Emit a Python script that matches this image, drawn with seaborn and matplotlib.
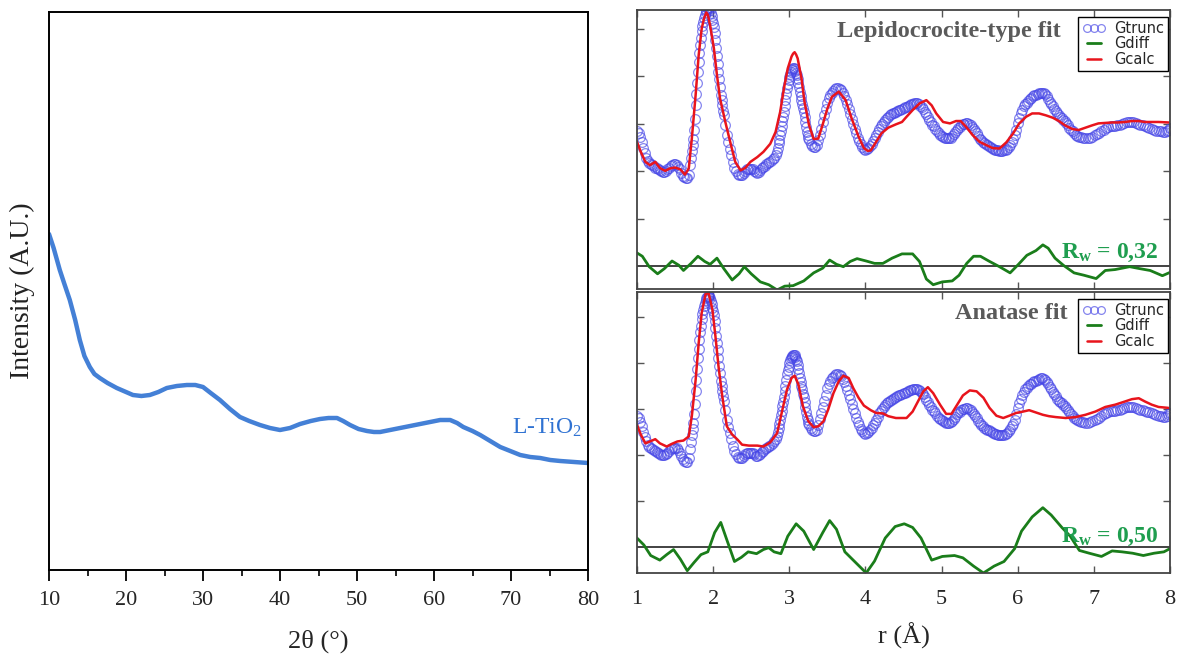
import numpy as np
import pandas as pd
import matplotlib
matplotlib.use("Agg")
import matplotlib.pyplot as plt
from matplotlib.ticker import MultipleLocator
import seaborn as sns

# ---------------- XRD data (left panel) ----------------
xrd_2theta = [10.0, 10.6, 11.4, 12.0, 12.7, 13.4, 14.0, 14.6, 15.3, 15.9, 16.6, 17.6, 18.8, 20.0,
              20.9, 22.0, 23.1, 24.2, 25.3, 26.6, 27.9, 29.0, 30.0, 31.0, 32.2, 33.5, 34.8,
              36.0, 37.4, 38.7, 40.0, 41.3, 42.6, 44.0, 45.2, 46.3, 47.4, 48.2, 49.1, 50.2,
              51.3, 52.2, 53.0, 54.3, 55.6, 56.9, 58.2, 59.5, 60.8, 62.1, 63.0, 63.8, 65.0,
              66.0, 67.3, 68.6, 69.9, 71.2, 72.5, 73.8, 75.1, 76.4, 78.2, 80.0]
xrd_intensity = [336, 322, 300, 286, 270, 250, 230, 214, 203, 196, 192, 187, 182, 178,
                 175, 174, 175, 178, 182, 184, 185, 185, 183, 177, 170, 161, 153,
                 149, 145, 142, 140, 142, 146, 149, 151, 152, 152, 149, 145, 141,
                 139, 138, 138, 140, 142, 144, 146, 148, 150, 150, 147, 143, 139,
                 135, 129, 123, 119, 115, 113, 112, 110, 109, 108, 107]

# ---------------- PDF data (right panels) ----------------
r_trunc = [1.00, 1.02, 1.04, 1.06, 1.08, 1.10, 1.12, 1.14, 1.16, 1.18, 1.20, 1.22, 1.24, 1.26,
           1.28, 1.30, 1.32, 1.34, 1.36, 1.38, 1.40, 1.42, 1.44, 1.46, 1.48, 1.50, 1.52, 1.54,
           1.56, 1.58, 1.60, 1.62, 1.64, 1.66, 1.68, 1.70, 1.71, 1.72, 1.73, 1.74, 1.75, 1.76,
           1.77, 1.78, 1.79, 1.80, 1.81, 1.82, 1.83, 1.84, 1.85, 1.86, 1.87, 1.88, 1.89, 1.90,
           1.91, 1.92, 1.93, 1.94, 1.95, 1.96, 1.97, 1.98, 1.99, 2.00, 2.01, 2.02, 2.03, 2.04,
           2.05, 2.06, 2.07, 2.08, 2.09, 2.10, 2.11, 2.12, 2.13, 2.14, 2.16, 2.18, 2.20, 2.22,
           2.24, 2.26, 2.28, 2.30, 2.32, 2.34, 2.36, 2.38, 2.40, 2.42, 2.44, 2.46, 2.48, 2.50,
           2.52, 2.54, 2.56, 2.58, 2.60, 2.62, 2.64, 2.66, 2.68, 2.70, 2.72, 2.74, 2.76, 2.78,
           2.80, 2.82, 2.84, 2.85, 2.86, 2.87, 2.88, 2.89, 2.90, 2.91, 2.92, 2.93, 2.94, 2.95,
           2.96, 2.97, 2.98, 2.99, 3.00, 3.01, 3.02, 3.03, 3.04, 3.05, 3.06, 3.07, 3.08, 3.09,
           3.10, 3.11, 3.12, 3.13, 3.14, 3.15, 3.16, 3.17, 3.18, 3.19, 3.20, 3.21, 3.22, 3.23,
           3.24, 3.25, 3.26, 3.28, 3.30, 3.32, 3.34, 3.36, 3.38, 3.40, 3.42, 3.44, 3.46, 3.48,
           3.50, 3.52, 3.54, 3.56, 3.58, 3.60, 3.62, 3.64, 3.66, 3.68, 3.70, 3.72, 3.74, 3.76,
           3.78, 3.80, 3.82, 3.84, 3.86, 3.88, 3.90, 3.92, 3.94, 3.96, 3.98, 4.00, 4.02, 4.04,
           4.06, 4.08, 4.10, 4.12, 4.14, 4.16, 4.18, 4.20, 4.22, 4.24, 4.26, 4.28, 4.30, 4.32,
           4.34, 4.36, 4.38, 4.40, 4.42, 4.44, 4.46, 4.48, 4.50, 4.52, 4.54, 4.56, 4.58, 4.60,
           4.62, 4.64, 4.66, 4.68, 4.70, 4.72, 4.74, 4.76, 4.78, 4.80, 4.82, 4.84, 4.86, 4.88,
           4.90, 4.92, 4.94, 4.96, 4.98, 5.00, 5.02, 5.04, 5.06, 5.08, 5.10, 5.12, 5.14, 5.16,
           5.18, 5.20, 5.22, 5.24, 5.26, 5.28, 5.30, 5.32, 5.34, 5.36, 5.38, 5.40, 5.42, 5.44,
           5.46, 5.48, 5.50, 5.52, 5.54, 5.56, 5.58, 5.60, 5.62, 5.64, 5.66, 5.68, 5.70, 5.72,
           5.74, 5.76, 5.78, 5.80, 5.82, 5.84, 5.86, 5.88, 5.90, 5.92, 5.94, 5.96, 5.98, 6.00,
           6.02, 6.04, 6.06, 6.08, 6.10, 6.12, 6.14, 6.16, 6.18, 6.20, 6.22, 6.24, 6.26, 6.28,
           6.30, 6.32, 6.34, 6.36, 6.38, 6.40, 6.42, 6.44, 6.46, 6.48, 6.50, 6.52, 6.54, 6.56,
           6.58, 6.60, 6.62, 6.64, 6.66, 6.68, 6.70, 6.72, 6.74, 6.76, 6.78, 6.80, 6.83, 6.86,
           6.89, 6.92, 6.95, 6.98, 7.01, 7.04, 7.07, 7.10, 7.13, 7.16, 7.19, 7.22, 7.25, 7.28,
           7.31, 7.34, 7.37, 7.40, 7.43, 7.46, 7.49, 7.52, 7.55, 7.58, 7.61, 7.64, 7.67, 7.70,
           7.73, 7.76, 7.79, 7.82, 7.85, 7.88, 7.91, 7.94, 7.96, 7.98, 8.00]
g_trunc = [2.85, 2.80, 2.72, 2.62, 2.50, 2.39, 2.29, 2.21, 2.17, 2.15, 2.13, 2.11, 2.08, 2.06,
           2.04, 2.02, 2.00, 1.99, 1.99, 2.01, 2.04, 2.08, 2.12, 2.14, 2.15, 2.15, 2.14, 2.10,
           2.04, 1.97, 1.91, 1.87, 1.85, 1.85, 1.93, 2.13, 2.28, 2.42, 2.56, 2.69, 2.88, 3.10,
           3.39, 3.63, 3.87, 4.10, 4.30, 4.50, 4.66, 4.80, 4.95, 5.06, 5.15, 5.23, 5.30, 5.36,
           5.41, 5.44, 5.45, 5.45, 5.43, 5.40, 5.34, 5.27, 5.19, 5.13, 5.05, 4.92, 4.76, 4.59,
           4.43, 4.27, 4.10, 3.94, 3.77, 3.61, 3.50, 3.39, 3.28, 3.18, 2.97, 2.76, 2.61, 2.47,
           2.35, 2.19, 2.08, 2.01, 1.95, 1.93, 1.92, 1.93, 1.97, 2.01, 2.04, 2.05, 2.05, 2.05,
           2.04, 2.01, 1.98, 1.97, 1.99, 2.02, 2.06, 2.09, 2.12, 2.15, 2.17, 2.19, 2.22, 2.25,
           2.29, 2.35, 2.41, 2.50, 2.59, 2.67, 2.76, 2.86, 2.96, 3.06, 3.15, 3.25, 3.38, 3.50,
           3.63, 3.75, 3.84, 3.92, 3.99, 4.06, 4.10, 4.13, 4.15, 4.17, 4.17, 4.16, 4.12, 4.08,
           4.03, 3.95, 3.86, 3.77, 3.68, 3.59, 3.50, 3.42, 3.33, 3.25, 3.15, 3.04, 2.94, 2.83,
           2.76, 2.70, 2.65, 2.58, 2.54, 2.52, 2.51, 2.55, 2.65, 2.77, 2.90, 3.03, 3.18, 3.31,
           3.45, 3.54, 3.61, 3.66, 3.70, 3.73, 3.75, 3.75, 3.74, 3.71, 3.65, 3.58, 3.50, 3.41,
           3.31, 3.21, 3.11, 3.00, 2.90, 2.80, 2.71, 2.64, 2.57, 2.52, 2.48, 2.46, 2.47, 2.50,
           2.54, 2.58, 2.64, 2.70, 2.76, 2.83, 2.90, 2.96, 3.00, 3.05, 3.09, 3.12, 3.15, 3.18,
           3.20, 3.22, 3.23, 3.25, 3.27, 3.29, 3.30, 3.32, 3.34, 3.35, 3.36, 3.38, 3.40, 3.41,
           3.42, 3.43, 3.43, 3.43, 3.41, 3.38, 3.35, 3.32, 3.26, 3.20, 3.15, 3.09, 3.03, 2.98,
           2.95, 2.90, 2.85, 2.80, 2.77, 2.75, 2.73, 2.71, 2.70, 2.70, 2.70, 2.71, 2.74, 2.78,
           2.83, 2.88, 2.92, 2.94, 2.97, 2.99, 3.00, 3.01, 3.01, 3.00, 2.98, 2.94, 2.89, 2.85,
           2.80, 2.74, 2.69, 2.65, 2.62, 2.59, 2.57, 2.55, 2.53, 2.51, 2.49, 2.47, 2.46, 2.45,
           2.44, 2.43, 2.43, 2.43, 2.44, 2.45, 2.48, 2.51, 2.56, 2.62, 2.68, 2.76, 2.88, 3.01,
           3.12, 3.22, 3.30, 3.37, 3.42, 3.45, 3.49, 3.53, 3.55, 3.58, 3.60, 3.61, 3.63, 3.65,
           3.66, 3.66, 3.65, 3.63, 3.59, 3.53, 3.47, 3.42, 3.37, 3.32, 3.27, 3.22, 3.18, 3.15,
           3.12, 3.09, 3.06, 3.02, 2.97, 2.92, 2.88, 2.84, 2.80, 2.77, 2.75, 2.73, 2.72, 2.71,
           2.70, 2.70, 2.71, 2.73, 2.76, 2.78, 2.81, 2.85, 2.88, 2.91, 2.93, 2.95, 2.96, 2.96,
           2.97, 2.98, 3.00, 3.02, 3.04, 3.05, 3.04, 3.03, 3.01, 2.99, 2.98, 2.97, 2.96, 2.94,
           2.92, 2.90, 2.88, 2.86, 2.85, 2.84, 2.83, 2.82, 2.84, 2.88, 2.91]

r_calc_lep = [1.00, 1.05, 1.11, 1.17, 1.24, 1.30, 1.37, 1.43, 1.50, 1.57, 1.63, 1.68, 1.72, 1.77,
              1.81, 1.85, 1.88, 1.91, 1.93, 1.96, 2.01, 2.05, 2.09, 2.16, 2.23, 2.29, 2.36, 2.42,
              2.49, 2.58, 2.66, 2.75, 2.82, 2.88, 2.93, 2.98, 3.03, 3.05, 3.07, 3.09, 3.11, 3.16,
              3.20, 3.26, 3.32, 3.38, 3.43, 3.50, 3.56, 3.65, 3.74, 3.82, 3.91, 3.98, 4.03, 4.07,
              4.14, 4.21, 4.30, 4.40, 4.48, 4.54, 4.62, 4.71, 4.80, 4.87, 4.93, 5.02, 5.11, 5.19,
              5.25, 5.32, 5.41, 5.50, 5.59, 5.67, 5.76, 5.85, 5.94, 6.02, 6.11, 6.19, 6.28, 6.37,
              6.46, 6.54, 6.63, 6.72, 6.80, 6.89, 6.98, 7.06, 7.15, 7.24, 7.32, 7.41, 7.50, 7.59,
              7.67, 7.76, 7.85, 7.98]
g_calc_lep = [2.62, 2.41, 2.20, 2.13, 2.20, 2.07, 2.01, 2.06, 2.08, 2.04, 1.93, 2.06, 2.69, 3.61,
              4.45, 5.01, 5.22, 5.35, 5.30, 5.08, 4.59, 4.03, 3.54, 3.04, 2.58, 2.20, 2.02, 2.07,
              2.20, 2.30, 2.41, 2.58, 2.83, 3.25, 3.75, 4.17, 4.42, 4.48, 4.51, 4.46, 4.38, 3.96,
              3.46, 2.97, 2.68, 2.69, 2.94, 3.32, 3.57, 3.68, 3.50, 3.11, 2.73, 2.49, 2.43, 2.44,
              2.62, 2.80, 2.92, 2.99, 3.04, 3.15, 3.29, 3.43, 3.50, 3.39, 3.22, 3.04, 3.01, 3.06,
              3.06, 2.94, 2.76, 2.62, 2.55, 2.49, 2.48, 2.61, 2.80, 3.01, 3.15, 3.22, 3.22, 3.18,
              3.13, 3.06, 2.96, 2.89, 2.87, 2.92, 2.97, 3.01, 3.02, 3.03, 3.03, 3.04, 3.06, 3.06,
              3.04, 3.04, 3.04, 3.03]

r_diff_lep = [1.00, 1.07, 1.16, 1.27, 1.36, 1.46, 1.55, 1.61, 1.71, 1.80, 1.89, 1.96, 2.05, 2.14,
              2.25, 2.34, 2.41, 2.50, 2.62, 2.73, 2.84, 2.94, 3.05, 3.19, 3.32, 3.44, 3.53, 3.62,
              3.71, 3.80, 3.89, 4.01, 4.12, 4.23, 4.35, 4.48, 4.62, 4.71, 4.80, 4.89, 5.01, 5.14,
              5.23, 5.33, 5.42, 5.51, 5.62, 5.76, 5.90, 6.01, 6.12, 6.24, 6.33, 6.40, 6.49, 6.60,
              6.74, 6.87, 7.03, 7.15, 7.28, 7.47, 7.60, 7.74, 7.90, 8.00]
g_diff_lep = [0.28, 0.21, -0.01, -0.16, -0.05, 0.11, 0.02, -0.09, 0.06, 0.21, 0.10, 0.04, 0.17,
              -0.05, -0.29, -0.16, -0.01, -0.16, -0.33, -0.39, -0.50, -0.42, -0.41, -0.31, -0.14,
              -0.04, 0.13, 0.04, -0.01, 0.10, 0.16, 0.11, 0.06, 0.06, 0.17, 0.26, 0.26, 0.10,
              -0.27, -0.39, -0.33, -0.31, -0.19, 0.06, 0.21, 0.21, 0.11, -0.01, -0.14, 0.04, 0.23,
              0.33, 0.45, 0.38, 0.17, 0.02, -0.14, -0.19, -0.26, -0.09, -0.07, -0.01, -0.05,
              -0.09, -0.20, -0.13]

r_calc_ana = [1.00, 1.05, 1.11, 1.17, 1.24, 1.30, 1.39, 1.46, 1.53, 1.61, 1.68, 1.72, 1.77, 1.81,
              1.85, 1.90, 1.94, 1.99, 2.03, 2.07, 2.12, 2.18, 2.25, 2.32, 2.38, 2.47, 2.58, 2.66,
              2.75, 2.84, 2.90, 2.97, 3.03, 3.07, 3.12, 3.18, 3.25, 3.32, 3.38, 3.45, 3.51, 3.58,
              3.65, 3.71, 3.78, 3.84, 3.91, 3.98, 4.07, 4.14, 4.23, 4.30, 4.40, 4.48, 4.54, 4.62,
              4.69, 4.76, 4.82, 4.89, 4.98, 5.06, 5.13, 5.19, 5.28, 5.37, 5.46, 5.55, 5.63, 5.72,
              5.81, 5.89, 5.98, 6.07, 6.15, 6.24, 6.33, 6.41, 6.50, 6.63, 6.76, 6.89, 7.02, 7.15,
              7.28, 7.41, 7.50, 7.59, 7.67, 7.76, 7.85, 7.98]
g_calc_ana = [2.65, 2.44, 2.25, 2.29, 2.34, 2.25, 2.18, 2.24, 2.29, 2.31, 2.40, 2.84, 3.63, 4.43,
              5.09, 5.49, 5.52, 5.16, 4.58, 3.93, 3.27, 2.62, 2.44, 2.33, 2.22, 2.20, 2.20, 2.18,
              2.27, 2.47, 2.91, 3.42, 3.67, 3.72, 3.53, 3.05, 2.73, 2.60, 2.62, 2.73, 2.98, 3.34,
              3.60, 3.72, 3.67, 3.45, 3.24, 3.07, 2.97, 2.91, 2.90, 2.84, 2.80, 2.80, 2.80, 2.94,
              3.16, 3.38, 3.47, 3.34, 3.09, 2.89, 2.89, 3.05, 3.29, 3.40, 3.38, 3.24, 3.02, 2.85,
              2.80, 2.85, 2.91, 2.94, 2.97, 2.92, 2.87, 2.84, 2.82, 2.80, 2.82, 2.87, 2.94, 3.04,
              3.09, 3.16, 3.21, 3.23, 3.16, 3.09, 3.04, 3.02]

r_diff_ana = [1.00, 1.09, 1.18, 1.30, 1.39, 1.48, 1.57, 1.66, 1.75, 1.84, 1.93, 2.02, 2.10, 2.18,
              2.28, 2.37, 2.46, 2.57, 2.66, 2.73, 2.80, 2.89, 2.98, 3.09, 3.19, 3.32, 3.44, 3.53,
              3.62, 3.73, 3.87, 4.01, 4.12, 4.26, 4.39, 4.51, 4.62, 4.73, 4.87, 5.01, 5.17, 5.28,
              5.42, 5.55, 5.69, 5.82, 5.96, 6.05, 6.19, 6.33, 6.44, 6.58, 6.69, 6.81, 6.94, 7.10,
              7.24, 7.37, 7.51, 7.65, 7.79, 7.92, 8.00]
g_diff_ana = [0.19, 0.04, -0.19, -0.29, -0.17, -0.06, -0.27, -0.52, -0.34, -0.17, -0.11, 0.31,
              0.53, 0.15, -0.32, -0.23, -0.11, -0.15, -0.06, -0.02, -0.11, -0.15, 0.23, 0.50, 0.34,
              -0.06, 0.31, 0.57, 0.38, -0.11, -0.34, -0.57, -0.31, 0.19, 0.44, 0.50, 0.42, 0.19,
              -0.29, -0.21, -0.19, -0.24, -0.42, -0.57, -0.42, -0.32, -0.04, 0.34, 0.65, 0.85,
              0.69, 0.42, 0.23, -0.08, -0.14, -0.21, -0.09, -0.11, -0.14, -0.19, -0.14, -0.11,
              -0.04]

xrd_ticks = [10, 20, 30, 40, 50, 60, 70, 80]
r_ticks = [1, 2, 3, 4, 5, 6, 7, 8]

# ---------------- style ----------------
sns.set_theme(style="ticks")
plt.rcParams["font.family"] = ["Liberation Serif", "DejaVu Serif"]
plt.rcParams["mathtext.fontset"] = "custom"
plt.rcParams["mathtext.rm"] = "Liberation Serif"
plt.rcParams["mathtext.bf"] = "Liberation Serif:bold"
plt.rcParams["mathtext.it"] = "Liberation Serif:italic"
plt.rcParams["lines.solid_joinstyle"] = "round"
plt.rcParams["lines.solid_capstyle"] = "round"

BLUE_XRD = "#2f72d2"
BLUE_PTS = "#4646e6"
RED = "#e8141c"
GREEN = "#1a7d1a"
GREEN_TXT = "#1f9e4f"
GRAY_TXT = "#5a5a5a"

fig = plt.figure(figsize=(11.84, 6.6), dpi=100)

# ---------------- left panel ----------------
axL = fig.add_axes([49 / 1184, 90 / 660, 539 / 1184, 558 / 660])
xrd_df = pd.DataFrame({"tt": xrd_2theta, "I": xrd_intensity})
sns.lineplot(data=xrd_df, x="tt", y="I", color=BLUE_XRD, lw=3.2, alpha=0.9, ax=axL,
             estimator=None, sort=False)
axL.set_xlim(10, 80)
axL.set_ylim(0, 558)
axL.set_xticks(xrd_ticks)
axL.xaxis.set_minor_locator(MultipleLocator(5))
axL.set_yticks([])
axL.tick_params(axis="x", which="major", direction="out", length=8, width=1.3,
                labelsize=16, pad=7, color="black")
axL.tick_params(axis="x", which="minor", direction="out", length=4, width=1.2, color="black")
for s in axL.spines.values():
    s.set_color("black")
    s.set_linewidth(1.4)
axL.set_xlabel("2θ (°)", fontsize=19, labelpad=14)
axL.set_ylabel("Intensity (A.U.)", fontsize=20, labelpad=10, color="#222222")
axL.text(0.989, 0.255, "L-TiO$_2$", transform=axL.transAxes, ha="right", va="center",
         fontsize=17, color=BLUE_XRD)


# ---------------- right panels ----------------
def pdf_panel(ax, r_calc, g_calc, r_diff, g_diff, title, title_x, rw_text, ylim, show_xlabels):
    trunc_df = pd.DataFrame({"r": r_trunc, "G": g_trunc})
    calc_df = pd.DataFrame({"r": r_calc, "G": g_calc})
    diff_df = pd.DataFrame({"r": r_diff, "G": g_diff})
    sns.lineplot(data=trunc_df, x="r", y="G", ax=ax, estimator=None, sort=False,
                 marker="o", linestyle="", markersize=7, markerfacecolor="none",
                 markeredgecolor=BLUE_PTS, markeredgewidth=0.9, alpha=0.65,
                 color=BLUE_PTS, label="Gtrunc")
    sns.lineplot(data=diff_df, x="r", y="G", ax=ax, estimator=None, sort=False,
                 color=GREEN, lw=2.0, label="Gdiff")
    sns.lineplot(data=calc_df, x="r", y="G", ax=ax, estimator=None, sort=False,
                 color=RED, lw=1.8, label="Gcalc")
    ax.axhline(0, color="#222222", lw=1.2, zorder=1)
    ax.set_xlim(1, 8)
    ax.set_ylim(*ylim)
    ax.set_xticks(r_ticks)
    ax.set_yticks([1, 2, 3, 4, 5])
    ax.tick_params(direction="in", top=True, right=True, length=5, width=1,
                   color="#555555", labelleft=False, labelsize=16, pad=12)
    if not show_xlabels:
        ax.tick_params(labelbottom=False)
    for s in ax.spines.values():
        s.set_color("#444444")
        s.set_linewidth(1.3)
    ax.set_xlabel("")
    ax.set_ylabel("")
    ax.text(title_x, 0.922, title, transform=ax.transAxes, ha="center", va="center",
            fontsize=17.5, fontweight="bold", color=GRAY_TXT)
    ax.text(0.887, 0.128, rw_text, transform=ax.transAxes, ha="center", va="center",
            fontsize=17, fontweight="bold", color=GREEN_TXT)
    leg = ax.legend(loc="upper right", bbox_to_anchor=(0.996, 0.975), numpoints=3,
                    markerscale=0.8, frameon=True, fancybox=False, edgecolor="black",
                    framealpha=1, handlelength=1.6, handletextpad=0.6,
                    labelspacing=0.05, borderpad=0.25, borderaxespad=0.0,
                    prop={"family": "DejaVu Sans", "size": 10.5})
    leg.get_frame().set_linewidth(1.0)


axT = fig.add_axes([637 / 1184, 371 / 660, 533 / 1184, 279 / 660])
pdf_panel(axT, r_calc_lep, g_calc_lep, r_diff_lep, g_diff_lep,
          "Lepidocrocite-type fit", 0.585, "R$_\\mathbf{w}$ = 0,32", (-0.48, 5.40), False)

axB = fig.add_axes([637 / 1184, 87 / 660, 533 / 1184, 281 / 660])
pdf_panel(axB, r_calc_ana, g_calc_ana, r_diff_ana, g_diff_ana,
          "Anatase fit", 0.702, "R$_\\mathbf{w}$ = 0,50", (-0.57, 5.54), True)
axB.set_xlabel("r (Å)", fontsize=19, labelpad=10)

fig.savefig("out.png", dpi=100)
